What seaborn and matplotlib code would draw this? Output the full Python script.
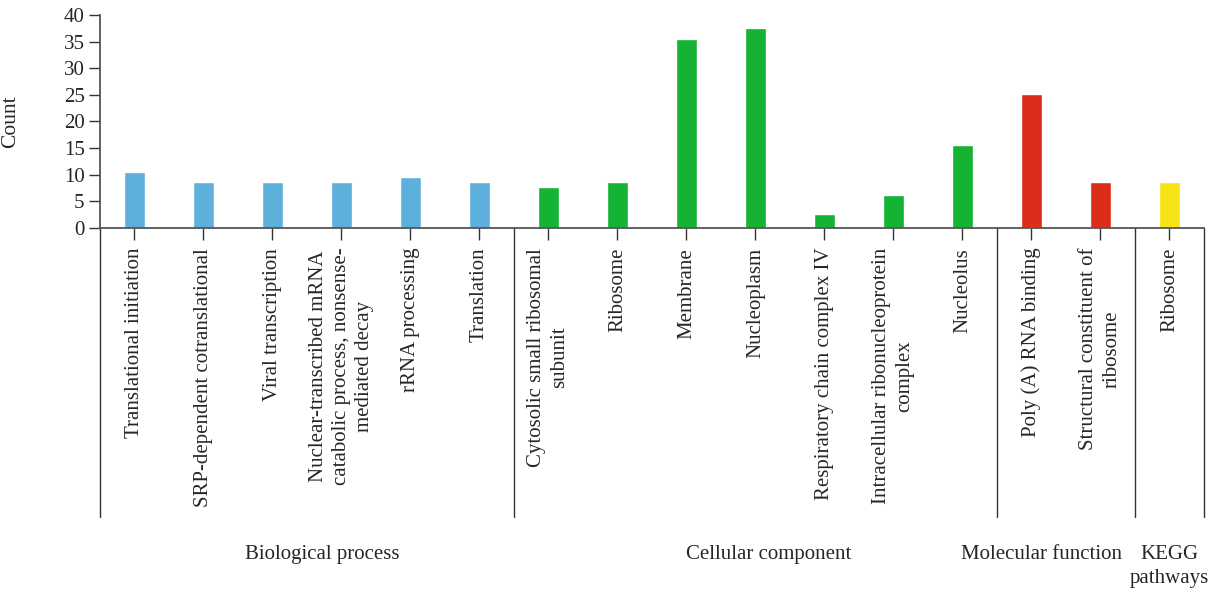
import matplotlib
matplotlib.use('Agg')
import matplotlib.pyplot as plt
import numpy as np
import pandas as pd
import seaborn as sns

# Data
bp_terms = ['Translational initiation', 'SRP-dependent cotranslational', 'Viral transcription',
            'Nuclear-transcribed mRNA\ncatabolic process, nonsense-\nmediated decay',
            'rRNA processing', 'Translation']
bp_counts = [10.4, 8.6, 8.6, 8.6, 9.5, 8.6]

cc_terms = ['Cytosolic small ribosomal\nsubunit', 'Ribosome', 'Membrane', 'Nucleoplasm',
            'Respiratory chain complex IV', 'Intracellular ribonucleoprotein\ncomplex', 'Nucleolus']
cc_counts = [7.7, 8.6, 35.5, 37.5, 2.5, 6.1, 15.5]

mf_terms = ['Poly (A) RNA binding', 'Structural constituent of\nribosome']
mf_counts = [25.1, 8.6]

kegg_terms = ['Ribosome']
kegg_counts = [8.6]

groups = ['Biological process', 'Cellular component', 'Molecular function', 'KEGG\npathways']
colors = ['#5DB0DB', '#14B334', '#DC2D1B', '#F5E316']

terms = bp_terms + cc_terms + mf_terms + kegg_terms
counts = bp_counts + cc_counts + mf_counts + kegg_counts
group_of = ([groups[0]] * len(bp_terms) + [groups[1]] * len(cc_terms)
            + [groups[2]] * len(mf_terms) + [groups[3]] * len(kegg_terms))

df = pd.DataFrame({'pos': np.arange(len(terms)), 'count': counts, 'group': group_of})

sns.set_style('white')
plt.rcParams['font.family'] = ['Liberation Serif', 'DejaVu Serif']

fig = plt.figure(figsize=(12.22, 5.93), dpi=100)
ax = fig.add_axes([0.0818, 0.616, 0.9034, 0.3587])

sns.barplot(data=df, x='pos', y='count', hue='group', hue_order=groups,
            palette=colors, saturation=1, native_scale=True, dodge=False, width=0.3,
            legend=False, ax=ax)

ax.set_xlim(-0.5, len(terms) - 0.5)
ax.set_ylim(0, 40)
ax.set_yticks(range(0, 41, 5))
ax.set_xticks(df['pos'])
ax.set_xticklabels(terms, rotation=90, fontsize=15, linespacing=1.3)
ax.tick_params(axis='y', labelsize=15, length=8, width=1, color='#333333', pad=3, left=True)
ax.tick_params(axis='x', length=8.5, width=1, color='#333333', pad=6, bottom=True)
ax.set_xlabel('')
ax.set_ylabel('Count', fontsize=15.5)
ax.yaxis.set_label_coords(-0.0725, 0.5)

for side in ['top', 'right']:
    ax.spines[side].set_visible(False)
for side in ['left', 'bottom']:
    ax.spines[side].set_color('#555555')
    ax.spines[side].set_linewidth(1.3)

# group separators below the axis
sizes = [len(bp_terms), len(cc_terms), len(mf_terms), len(kegg_terms)]
edges = np.concatenate([[0], np.cumsum(sizes)]) - 0.5
trans = ax.get_xaxis_transform()
for e in edges:
    ax.plot([e, e], [0, -1.36], color='#333333', lw=1, transform=trans, clip_on=False)

# group labels
label_x = [2.72, 9.19, 13.15, 15.0]
for g, gx in zip(groups, label_x):
    ax.text(gx, -1.49, g, transform=trans, ha='center', va='top', fontsize=15,
            linespacing=1.35)

fig.savefig('out.png', dpi=100)
